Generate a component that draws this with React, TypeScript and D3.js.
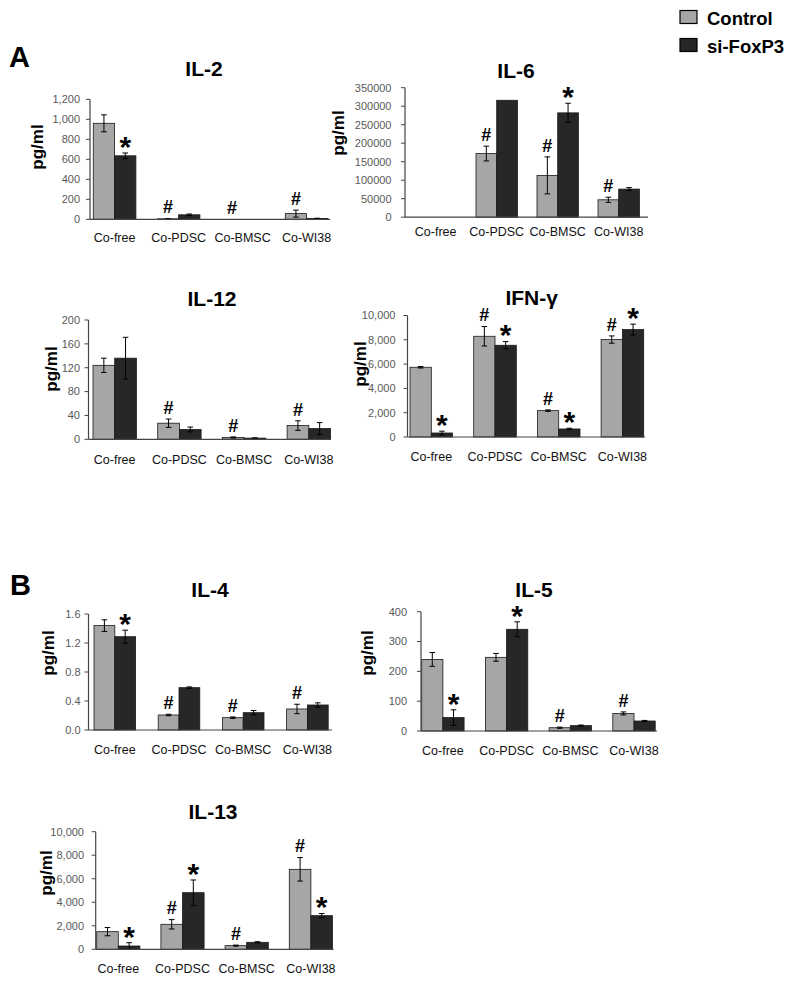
import React from "react";
import * as d3 from "d3";

// ---------- data ----------
const categories = ["Co-free", "Co-PDSC", "Co-BMSC", "Co-WI38"];
const seriesNames = ["Control", "si-FoxP3"];

const il2Ticks = [0, 200, 400, 600, 800, 1000, 1200];
const il2Control = [960, 5, 0, 57];
const il2ControlErr = [85, 3, 0, 35];
const il2SiFoxP3 = [635, 45, 0, 8];
const il2SiFoxP3Err = [28, 8, 0, 3];
const il2ControlMarks = ["", "#", "#", "#"];
const il2SiFoxP3Marks = ["*", "", "", ""];

const il6Ticks = [0, 50000, 100000, 150000, 200000, 250000, 300000, 350000];
const il6Control = [0, 172000, 113000, 47000];
const il6ControlErr = [0, 20000, 50000, 7000];
const il6SiFoxP3 = [0, 316000, 282000, 76000];
const il6SiFoxP3Err = [0, 0, 26000, 4000];
const il6ControlMarks = ["", "#", "#", "#"];
const il6SiFoxP3Marks = ["", "", "*", ""];

const il12Ticks = [0, 40, 80, 120, 160, 200];
const il12Control = [124, 27, 3, 23];
const il12ControlErr = [12, 7, 1, 8];
const il12SiFoxP3 = [136, 16.5, 2, 18];
const il12SiFoxP3Err = [35, 4, 0.5, 10];
const il12ControlMarks = ["", "#", "#", "#"];
const il12SiFoxP3Marks = ["", "", "", ""];

const ifnTicks = [0, 2000, 4000, 6000, 8000, 10000];
const ifnControl = [5740, 8290, 2170, 8020];
const ifnControlErr = [60, 800, 60, 300];
const ifnSiFoxP3 = [330, 7550, 660, 8840];
const ifnSiFoxP3Err = [150, 300, 60, 450];
const ifnControlMarks = ["", "#", "#", "#"];
const ifnSiFoxP3Marks = ["*", "*", "*", "*"];

const il4Ticks = [0, 0.4, 0.8, 1.2, 1.6];
const il4Control = [1.44, 0.207, 0.17, 0.29];
const il4ControlErr = [0.08, 0.01, 0.01, 0.065];
const il4SiFoxP3 = [1.287, 0.584, 0.239, 0.345];
const il4SiFoxP3Err = [0.09, 0.01, 0.03, 0.03];
const il4ControlMarks = ["", "#", "#", "#"];
const il4SiFoxP3Marks = ["*", "", "", ""];

const il5Ticks = [0, 100, 200, 300, 400];
const il5Control = [240, 247, 11, 59];
const il5ControlErr = [23, 13, 2, 5];
const il5SiFoxP3 = [45, 341, 18, 33.5];
const il5SiFoxP3Err = [26, 25, 2, 2];
const il5ControlMarks = ["", "", "#", "#"];
const il5SiFoxP3Marks = ["*", "*", "", ""];

const il13Ticks = [0, 2000, 4000, 6000, 8000, 10000];
const il13Control = [1500, 2125, 310, 6800];
const il13ControlErr = [350, 400, 50, 1000];
const il13SiFoxP3 = [280, 4815, 595, 2860];
const il13SiFoxP3Err = [280, 1080, 50, 180];
const il13ControlMarks = ["", "#", "#", "#"];
const il13SiFoxP3Marks = ["*", "*", "", "*"];

// ---------- styles ----------
const FONT = "'Liberation Sans', Arial, Helvetica, sans-serif";
const CONTROL_FILL = "#a6a6a6";
const SI_FILL = "#272727";
const BAR_STROKE = "#1a1a1a";

type Layout = {
  axisX: number;
  axisEnd: number;
  yTop: number;
  y0: number;
  barStart: number;
  step: number;
  barW: number;
  tickLabelX: number;
  catLabelY: number;
  titleX: number;
  titleY: number;
  yLabelX: number;
  yLabelY: number;
};

type PanelProps = {
  title: string;
  ticks: number[];
  fmt: (v: number) => string;
  control: number[];
  controlErr: number[];
  si: number[];
  siErr: number[];
  controlMarks: string[];
  siMarks: string[];
  layout: Layout;
};

function Panel(p: PanelProps) {
  const L = p.layout;
  const yMax = p.ticks[p.ticks.length - 1];
  const y = d3.scaleLinear().domain([0, yMax]).range([L.y0, L.yTop]);
  const groupW = L.barW * 2;
  const x = d3
    .scaleBand<string>()
    .domain(categories)
    .range([L.barStart, L.barStart + L.step * 3 + groupW])
    .paddingInner(1 - groupW / L.step)
    .paddingOuter(0);
  const xs = d3.scaleBand<string>().domain(seriesNames).range([0, x.bandwidth()]);

  const series = [
    { name: seriesNames[0], vals: p.control, errs: p.controlErr, marks: p.controlMarks, fill: CONTROL_FILL },
    { name: seriesNames[1], vals: p.si, errs: p.siErr, marks: p.siMarks, fill: SI_FILL },
  ];

  return (
    <g>
      <text x={L.titleX} y={L.titleY} textAnchor="middle" fontFamily={FONT} fontWeight="bold" fontSize={21} fill="#000">
        {p.title}
      </text>
      <text
        transform={`translate(${L.yLabelX},${L.yLabelY}) rotate(-90)`}
        textAnchor="middle"
        dominantBaseline="central"
        fontFamily={FONT}
        fontWeight="bold"
        fontSize={17}
        fill="#000"
      >
        pg/ml
      </text>
      {/* y ticks */}
      {p.ticks.map((t) => (
        <g key={t}>
          <line x1={L.axisX - 4} x2={L.axisX} y1={y(t)} y2={y(t)} stroke="#444" strokeWidth={1} />
          <text x={L.tickLabelX} y={y(t)} dy="0.35em" textAnchor="end" fontFamily={FONT} fontSize={11} fill="#595959">
            {p.fmt(t)}
          </text>
        </g>
      ))}
      {/* bars */}
      {series.map((s) =>
        categories.map((c, i) => {
          const bx = (x(c) as number) + (xs(s.name) as number);
          const v = s.vals[i];
          const top = y(v);
          return (
            <g key={s.name + c}>
              {v > 0 && (
                <rect
                  x={bx}
                  y={top}
                  width={xs.bandwidth()}
                  height={Math.max(0.6, L.y0 - top)}
                  fill={s.fill}
                  stroke={BAR_STROKE}
                  strokeWidth={0.8}
                />
              )}
            </g>
          );
        })
      )}
      {/* error bars */}
      {series.map((s) =>
        categories.map((c, i) => {
          const e = s.errs[i];
          if (!e) return null;
          const cx = (x(c) as number) + (xs(s.name) as number) + xs.bandwidth() / 2;
          const v = s.vals[i];
          const yt = y(v + e);
          const yb = y(Math.max(0, v - e));
          return (
            <g key={"e" + s.name + c} stroke="#000" strokeWidth={1}>
              <line x1={cx} x2={cx} y1={yt} y2={yb} />
              <line x1={cx - 2.8} x2={cx + 2.8} y1={yt} y2={yt} />
              <line x1={cx - 2.8} x2={cx + 2.8} y1={yb} y2={yb} />
            </g>
          );
        })
      )}
      {/* annotations */}
      {series.map((s) =>
        categories.map((c, i) => {
          const m = s.marks[i];
          if (!m) return null;
          const cx = (x(c) as number) + (xs(s.name) as number) + xs.bandwidth() / 2;
          const topY = y(s.vals[i] + (s.errs[i] || 0));
          if (m === "#") {
            const cy = topY - 11.5;
            return (
              <text key={"m" + s.name + c} x={cx} y={cy + 6.3} textAnchor="middle" fontFamily={FONT} fontWeight="bold" fontSize={18} fill="#000">
                #
              </text>
            );
          }
          const cy = topY - 13;
          return (
            <text key={"m" + s.name + c} x={cx} y={cy + 16.8} textAnchor="middle" fontFamily={FONT} fontWeight="bold" fontSize={30} fill="#000">
              *
            </text>
          );
        })
      )}
      {/* axes */}
      <line x1={L.axisX} x2={L.axisX} y1={L.yTop} y2={L.y0} stroke="#444" strokeWidth={1.2} />
      <line x1={L.axisX} x2={L.axisEnd} y1={L.y0} y2={L.y0} stroke="#444" strokeWidth={1.2} />
      {/* category labels */}
      {categories.map((c) => (
        <text
          key={"c" + c}
          x={(x(c) as number) + x.bandwidth() / 2}
          y={L.catLabelY}
          textAnchor="middle"
          fontFamily={FONT}
          fontSize={12.5}
          fill="#111"
        >
          {c}
        </text>
      ))}
    </g>
  );
}

const fmtComma = d3.format(",");
const fmtPlain = d3.format("d");
const fmtOne = d3.format(".1f");

export default function App() {
  return (
    <svg
      width={799}
      height={988}
      viewBox="0 0 799 988"
      style={{ position: "absolute", left: 0, top: 0, background: "#fff" }}
    >
      <rect x={0} y={0} width={799} height={988} fill="#fff" />
      {/* legend */}
      <rect x={680} y={10.5} width={17} height={13} fill={CONTROL_FILL} stroke="#000" strokeWidth={1.2} />
      <text x={707} y={24.5} fontFamily={FONT} fontWeight="bold" fontSize={18.5} fill="#000">
        {seriesNames[0]}
      </text>
      <rect x={680} y={38.5} width={17} height={13} fill={SI_FILL} stroke="#000" strokeWidth={1.2} />
      <text x={707} y={52.5} fontFamily={FONT} fontWeight="bold" fontSize={18.5} fill="#000">
        {seriesNames[1]}
      </text>

      <text x={9} y={67} fontFamily={FONT} fontWeight="bold" fontSize={29} fill="#000">A</text>
      <text x={10} y={595} fontFamily={FONT} fontWeight="bold" fontSize={29} fill="#000">B</text>

      <Panel
        title="IL-2"
        ticks={il2Ticks}
        fmt={fmtComma}
        control={il2Control}
        controlErr={il2ControlErr}
        si={il2SiFoxP3}
        siErr={il2SiFoxP3Err}
        controlMarks={il2ControlMarks}
        siMarks={il2SiFoxP3Marks}
        layout={{ axisX: 90, axisEnd: 330, yTop: 99.3, y0: 219.3, barStart: 93.3, step: 64, barW: 21.3, tickLabelX: 80, catLabelY: 242, titleX: 204, titleY: 75.5, yLabelX: 37.5, yLabelY: 147 }}
      />
      <Panel
        title="IL-6"
        ticks={il6Ticks}
        fmt={fmtPlain}
        control={il6Control}
        controlErr={il6ControlErr}
        si={il6SiFoxP3}
        siErr={il6SiFoxP3Err}
        controlMarks={il6ControlMarks}
        siMarks={il6SiFoxP3Marks}
        layout={{ axisX: 405, axisEnd: 648, yTop: 87.7, y0: 217.2, barStart: 415, step: 61, barW: 20.7, tickLabelX: 391.5, catLabelY: 236, titleX: 516, titleY: 77.5, yLabelX: 338, yLabelY: 133 }}
      />
      <Panel
        title="IL-12"
        ticks={il12Ticks}
        fmt={fmtPlain}
        control={il12Control}
        controlErr={il12ControlErr}
        si={il12SiFoxP3}
        siErr={il12SiFoxP3Err}
        controlMarks={il12ControlMarks}
        siMarks={il12SiFoxP3Marks}
        layout={{ axisX: 88.5, axisEnd: 331, yTop: 320, y0: 439.3, barStart: 93, step: 64.7, barW: 21.7, tickLabelX: 80, catLabelY: 464, titleX: 212, titleY: 305.5, yLabelX: 51, yLabelY: 369 }}
      />
      <Panel
        title="IFN-γ"
        ticks={ifnTicks}
        fmt={fmtComma}
        control={ifnControl}
        controlErr={ifnControlErr}
        si={ifnSiFoxP3}
        siErr={ifnSiFoxP3Err}
        controlMarks={ifnControlMarks}
        siMarks={ifnSiFoxP3Marks}
        layout={{ axisX: 407.5, axisEnd: 645, yTop: 315.5, y0: 437, barStart: 410, step: 63.7, barW: 21.3, tickLabelX: 395.5, catLabelY: 461, titleX: 531.7, titleY: 305, yLabelX: 360, yLabelY: 364 }}
      />
      <Panel
        title="IL-4"
        ticks={il4Ticks}
        fmt={fmtOne}
        control={il4Control}
        controlErr={il4ControlErr}
        si={il4SiFoxP3}
        siErr={il4SiFoxP3Err}
        controlMarks={il4ControlMarks}
        siMarks={il4SiFoxP3Marks}
        layout={{ axisX: 88.5, axisEnd: 332, yTop: 614, y0: 730, barStart: 94, step: 64.2, barW: 20.8, tickLabelX: 80.5, catLabelY: 754, titleX: 210, titleY: 597, yLabelX: 48, yLabelY: 653 }}
      />
      <Panel
        title="IL-5"
        ticks={il5Ticks}
        fmt={fmtPlain}
        control={il5Control}
        controlErr={il5ControlErr}
        si={il5SiFoxP3}
        siErr={il5SiFoxP3Err}
        controlMarks={il5ControlMarks}
        siMarks={il5SiFoxP3Marks}
        layout={{ axisX: 421, axisEnd: 657, yTop: 611.7, y0: 731, barStart: 421.7, step: 63.7, barW: 21.2, tickLabelX: 407, catLabelY: 755, titleX: 534, titleY: 597, yLabelX: 367, yLabelY: 653 }}
      />
      <Panel
        title="IL-13"
        ticks={il13Ticks}
        fmt={fmtComma}
        control={il13Control}
        controlErr={il13ControlErr}
        si={il13SiFoxP3}
        siErr={il13SiFoxP3Err}
        controlMarks={il13ControlMarks}
        siMarks={il13SiFoxP3Marks}
        layout={{ axisX: 95.7, axisEnd: 333.5, yTop: 831.7, y0: 949.3, barStart: 96.7, step: 64.2, barW: 21.6, tickLabelX: 84, catLabelY: 973, titleX: 213, titleY: 819, yLabelX: 46.7, yLabelY: 873 }}
      />
    </svg>
  );
}
